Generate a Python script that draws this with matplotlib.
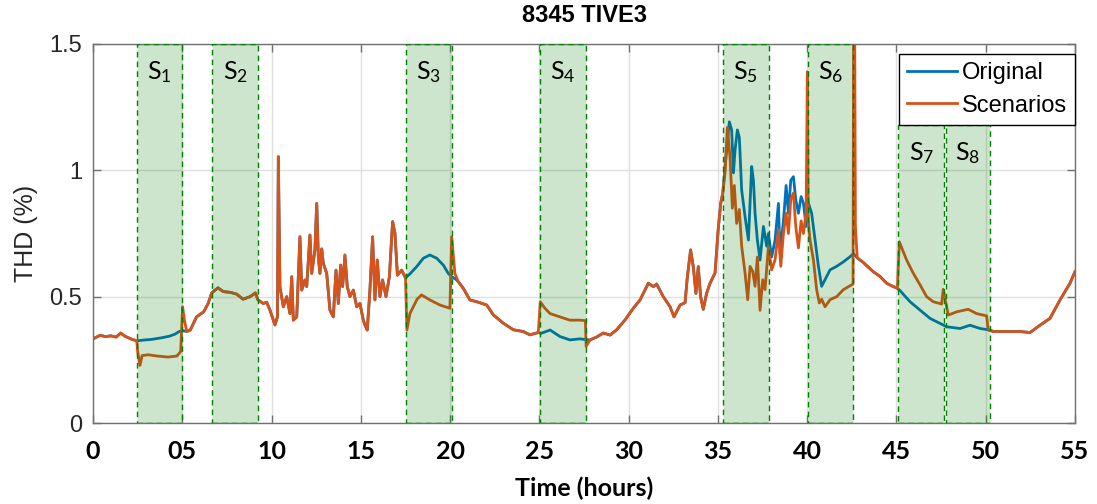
# THD of feeder 8345 TIVE3: original profile vs. the scenario runs, S1..S8 shaded

import matplotlib.pyplot as plt
from matplotlib.patches import Rectangle

# ---------------- data: (hours, THD %) ----------------
# stretches where both curves lie on top of each other
common_a = [(0.0, 0.333), (0.4, 0.347), (0.7, 0.342), (1.0, 0.345), (1.3, 0.340),
            (1.55, 0.356), (1.8, 0.343), (2.15, 0.332), (2.45, 0.325)]
common_b = [(5.25, 0.362), (5.45, 0.368), (5.8, 0.42), (6.2, 0.44), (6.45, 0.473),
            (6.65, 0.515), (7.0, 0.535), (7.3, 0.52), (7.7, 0.517), (8.05, 0.51),
            (8.4, 0.49), (8.8, 0.5), (9.1, 0.515), (9.24, 0.487), (9.54, 0.473),
            (9.73, 0.478), (9.91, 0.447), (10.19, 0.388), (10.33, 0.42), (10.38, 1.054),
            (10.47, 0.539), (10.66, 0.46), (10.85, 0.5), (11.03, 0.433), (11.13, 0.579),
            (11.22, 0.407), (11.41, 0.42), (11.59, 0.737), (11.69, 0.526), (11.87, 0.566),
            (11.97, 0.54), (12.15, 0.744), (12.25, 0.592), (12.43, 0.685), (12.53, 0.869),
            (12.62, 0.658), (12.71, 0.592), (12.81, 0.689), (12.9, 0.632), (13.09, 0.592),
            (13.27, 0.447), (13.46, 0.42), (13.61, 0.605), (13.74, 0.473), (13.87, 0.625),
            (13.98, 0.54), (14.11, 0.665), (14.24, 0.54), (14.39, 0.5), (14.58, 0.526),
            (14.77, 0.46), (14.95, 0.473), (15.14, 0.407), (15.23, 0.388), (15.36, 0.368),
            (15.51, 0.526), (15.66, 0.737), (15.79, 0.487), (15.92, 0.645), (16.07, 0.5),
            (16.22, 0.566), (16.41, 0.5), (16.6, 0.579), (16.78, 0.797), (16.91, 0.752),
            (17.05, 0.585), (17.29, 0.605), (17.5, 0.575)]
common_c = [(20.46, 0.559), (20.74, 0.533), (21.11, 0.487), (21.49, 0.48), (22.05, 0.467),
            (22.42, 0.428), (22.98, 0.395), (23.54, 0.369), (24.1, 0.362), (24.47, 0.349),
            (24.94, 0.358)]
common_d = [(27.84, 0.329), (28.2, 0.34), (28.58, 0.356), (28.96, 0.348), (29.33, 0.369),
            (29.8, 0.408), (30.26, 0.454), (30.64, 0.487), (31.1, 0.553), (31.38, 0.54),
            (31.57, 0.55), (31.94, 0.5), (32.32, 0.46), (32.54, 0.42), (32.88, 0.467),
            (33.16, 0.476), (33.29, 0.579), (33.47, 0.685), (33.62, 0.619), (33.77, 0.513),
            (33.9, 0.619), (34.03, 0.5), (34.18, 0.45), (34.37, 0.514), (34.56, 0.553),
            (34.84, 0.594), (35.02, 0.77), (35.16, 0.87), (35.27, 0.91)]
common_e = [(42.8, 0.654), (43.15, 0.635), (43.45, 0.615), (43.7, 0.599), (44.08, 0.58),
            (44.45, 0.553), (44.82, 0.54), (45.05, 0.533)]
common_f = [(50.42, 0.362), (51.17, 0.362), (51.92, 0.362), (52.48, 0.358), (53.04, 0.387),
            (53.6, 0.414), (54.16, 0.487), (54.72, 0.553), (55.0, 0.599)]

# original curve inside the scenario windows
orig_s1 = [(2.8, 0.328), (3.3, 0.331), (3.9, 0.338), (4.3, 0.344), (4.6, 0.352),
           (4.8, 0.361), (5.0, 0.366)]
orig_s3 = [(17.75, 0.59), (18.13, 0.619), (18.5, 0.652), (18.87, 0.665), (19.25, 0.652),
           (19.62, 0.625), (19.9, 0.592), (20.09, 0.579), (20.3, 0.57)]
orig_s4 = [(25.1, 0.355), (25.6, 0.368), (26.16, 0.342), (26.71, 0.329), (27.28, 0.333),
           (27.6, 0.33)]
orig_s5_s6 = [(35.4, 1.015), (35.64, 1.192), (35.77, 1.16), (35.87, 0.99), (35.96, 1.08),
              (36.09, 1.16), (36.2, 1.13), (36.33, 0.922), (36.52, 0.817), (36.71, 0.724),
              (36.89, 1.015), (36.99, 0.96), (37.08, 0.83), (37.21, 0.724), (37.36, 0.645),
              (37.55, 0.778), (37.73, 0.7), (37.83, 0.75), (38.01, 0.657), (38.2, 0.724),
              (38.39, 0.869), (38.48, 0.67), (38.67, 0.8), (38.82, 0.94), (38.95, 0.83),
              (39.08, 0.96), (39.23, 0.975), (39.36, 0.884), (39.51, 0.83), (39.66, 0.896),
              (39.79, 0.87), (39.94, 0.778), (40.01, 0.884), (40.25, 0.83), (40.44, 0.724),
              (40.63, 0.62), (40.81, 0.541), (41.0, 0.567), (41.28, 0.606), (41.65, 0.62),
              (42.03, 0.638), (42.4, 0.658), (42.59, 0.67)]
orig_s7_s8 = [(45.16, 0.527), (45.76, 0.48), (46.32, 0.447), (46.88, 0.414), (47.44, 0.394),
              (47.81, 0.381), (48.56, 0.374), (49.12, 0.387), (49.68, 0.374), (50.24, 0.368)]

# scenario curve inside the windows
scen_s1 = [(2.5, 0.283), (2.63, 0.228), (2.75, 0.267), (3.1, 0.27), (3.6, 0.265),
           (4.2, 0.261), (4.7, 0.265), (4.91, 0.283), (5.02, 0.46), (5.12, 0.407)]
scen_s3 = [(17.58, 0.368), (17.75, 0.433), (17.94, 0.46), (18.15, 0.49), (18.4, 0.507),
           (18.87, 0.487), (19.43, 0.467), (19.99, 0.454), (20.09, 0.737), (20.27, 0.592)]
scen_s4 = [(25.05, 0.48), (25.3, 0.455), (25.6, 0.433), (26.16, 0.42), (26.71, 0.407),
           (27.28, 0.407), (27.58, 0.405), (27.62, 0.303)]
scen_s5_s6 = [(35.4, 0.99), (35.53, 1.17), (35.68, 1.05), (35.81, 0.85), (35.92, 0.94),
              (36.05, 0.79), (36.2, 0.845), (36.33, 0.7), (36.52, 0.594), (36.67, 0.488),
              (36.8, 0.62), (36.95, 0.6), (37.08, 0.541), (37.21, 0.657), (37.36, 0.446),
              (37.51, 0.567), (37.64, 0.528), (37.83, 0.7), (38.01, 0.606), (38.2, 0.645),
              (38.39, 0.765), (38.52, 0.62), (38.67, 0.75), (38.82, 0.83), (38.95, 0.75),
              (39.08, 0.884), (39.23, 0.91), (39.36, 0.778), (39.51, 0.693), (39.66, 0.8),
              (39.79, 0.75), (39.94, 0.83), (40.01, 1.39), (40.06, 0.8), (40.16, 0.724),
              (40.35, 0.645), (40.53, 0.528), (40.68, 0.475), (40.81, 0.49), (41.0, 0.46),
              (41.28, 0.488), (41.65, 0.5), (42.03, 0.528), (42.49, 0.547), (42.57, 0.55),
              (42.6, 1.6), (42.66, 1.6), (42.7, 0.78)]
scen_s7_s8 = [(45.16, 0.717), (45.57, 0.645), (45.94, 0.593), (46.32, 0.547), (46.69, 0.5),
              (47.06, 0.48), (47.53, 0.471), (47.62, 0.529), (47.77, 0.474), (47.9, 0.427),
              (48.37, 0.44), (49.02, 0.45), (49.49, 0.433), (50.05, 0.424), (50.14, 0.368)]

original = (common_a + orig_s1 + common_b + orig_s3 + common_c + orig_s4 + common_d
            + orig_s5_s6 + common_e + orig_s7_s8 + common_f)
scenarios = (common_a + scen_s1 + common_b + scen_s3 + common_c + scen_s4 + common_d
             + scen_s5_s6 + common_e + scen_s7_s8 + common_f)

# scenario windows
band_names = ['1', '2', '3', '4', '5', '6', '7', '8']
band_start = [2.46, 6.67, 17.55, 25.03, 35.27, 40.03, 45.1, 47.75]
band_end = [5.0, 9.24, 20.08, 27.62, 37.85, 42.57, 47.68, 50.22]
band_top = [1.5, 1.5, 1.5, 1.5, 1.5, 1.5, 1.18, 1.18]

xticks = [0, 5, 10, 15, 20, 25, 30, 35, 40, 45, 50, 55]
xticklabels = ['0', '05', '10', '15', '20', '25', '30', '35', '40', '45', '50', '55']
yticks = [0, 0.5, 1, 1.5]
yticklabels = ['0', '0.5', '1', '1.5']

# ---------------- plot ----------------
blue = '#0072BD'
orange = '#D95319'
green = (0, 0.5, 0)

fig = plt.figure(figsize=(10.97, 5.04), dpi=100)
ax = fig.add_axes([93/1097, 1 - 423/504, 982/1097, 379/504])

t_o = [p[0] for p in original]
v_o = [p[1] for p in original]
t_s = [p[0] for p in scenarios]
v_s = [p[1] for p in scenarios]
ax.plot(t_o, v_o, color=blue, lw=2.0, label='Original', zorder=2)
ax.plot(t_s, v_s, color=orange, lw=2.0, label='Scenarios', zorder=2.1)

# green windows go on top of the curves (that's why the curves look darker inside)
for name, x0, x1, top in zip(band_names, band_start, band_end, band_top):
    ax.add_patch(Rectangle((x0, 0), x1 - x0, top, facecolor=(0, 0.5, 0, 0.2),
                           edgecolor=green, linestyle=(0, (4, 3)), lw=1.0, zorder=3))
    ax.text((x0 + x1) / 2, top - 0.11, r'$\mathregular{S_{%s}}$' % name, ha='center',
            va='center', family='Lato', fontsize=18, color='black', zorder=4)

ax.set_xlim(0, 55)
ax.set_ylim(0, 1.5)
ax.set_xticks(xticks)
ax.set_xticklabels(xticklabels, family='Lato', fontweight='bold', fontsize=18, color='black')
ax.set_yticks(yticks)
ax.set_yticklabels(yticklabels, family='Liberation Sans', fontsize=17, color='#262626')
ax.tick_params(direction='in', length=6, width=1, top=True, right=True, colors='#707070',
               pad=10)
ax.tick_params(axis='x', labelcolor='black', pad=12)
ax.tick_params(axis='y', labelcolor='#262626', pad=8)
for s in ax.spines.values():
    s.set_color('#707070')
    s.set_linewidth(1.0)
ax.grid(True, color='#e0e0e0', lw=1.0, zorder=0)
ax.set_axisbelow(True)

ax.set_xlabel('Time (hours)', family='Lato', fontweight='bold', fontsize=18, labelpad=10)
ax.set_ylabel('THD (%)', family='Liberation Sans', fontsize=18, color='#262626', labelpad=8)
ax.set_title('8345 TIVE3', family='Liberation Sans', fontweight='bold', fontsize=17, pad=16)

leg = ax.legend(loc='upper right', bbox_to_anchor=(1.0, 0.974), borderaxespad=0,
                prop={'family': 'Liberation Sans', 'size': 17}, fancybox=False,
                framealpha=1, edgecolor='black', handlelength=2.1, handletextpad=0.2,
                borderpad=0.35, labelspacing=0.45)
leg.get_frame().set_linewidth(1.0)
leg.set_zorder(5)

fig.savefig('out.png', dpi=100)
